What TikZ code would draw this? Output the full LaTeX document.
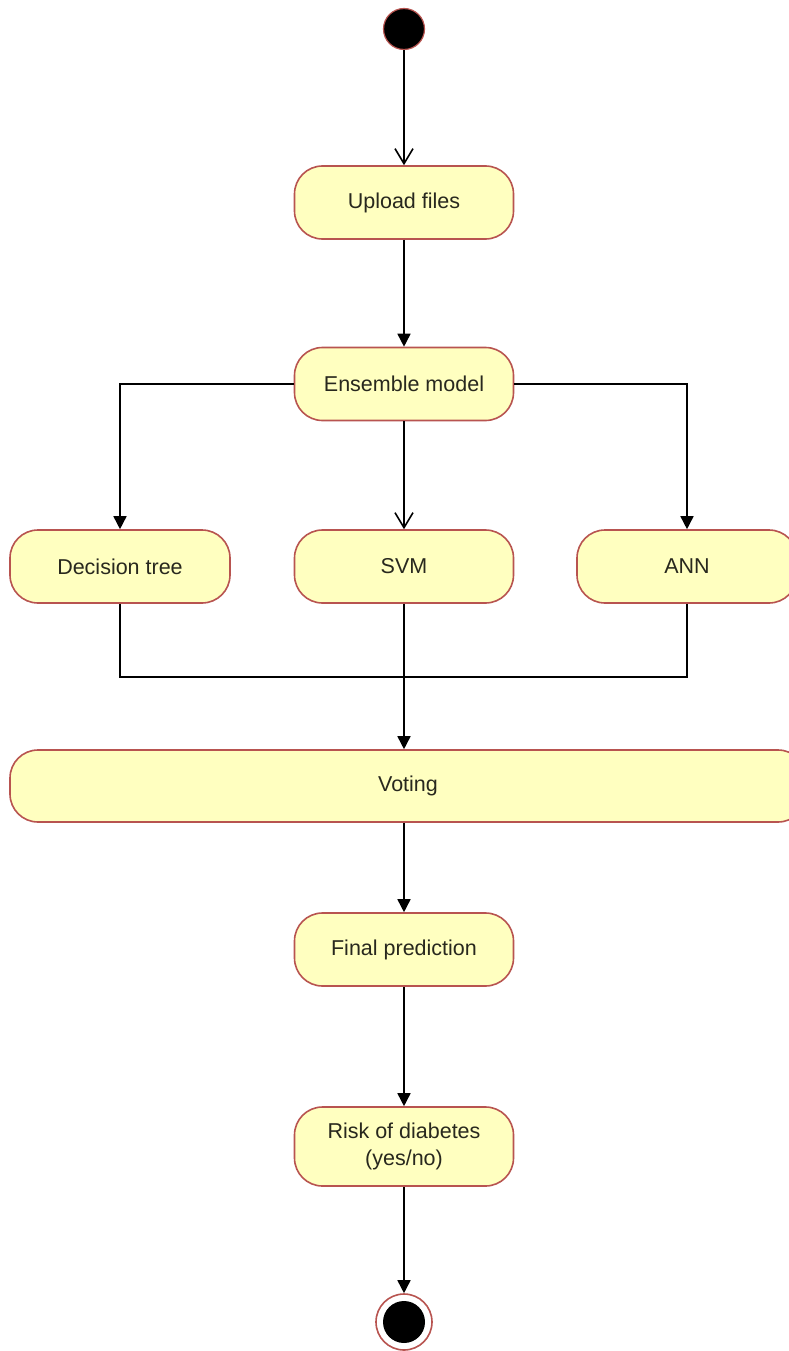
\documentclass[tikz,border=0pt]{standalone}
\usepackage{fontspec}
\setmainfont{Liberation Sans}
\usetikzlibrary{arrows.meta}
\definecolor{actfill}{RGB}{255,255,192}
\definecolor{actline}{RGB}{184,84,80}
\definecolor{txt}{RGB}{40,40,30}
\begin{document}
\begin{tikzpicture}[x=1pt,y=-1pt,
  act/.style={draw=actline, fill=actfill, line width=1.6pt, rounded corners=28pt,
    minimum width=219pt, minimum height=73pt, inner sep=0pt, text=txt,
    font=\fontsize{21.5}{27}\selectfont, align=center},
  flow/.style={line width=1.6pt, -{Triangle[width=13pt,length=13pt]}},
  openflow/.style={line width=1.6pt, -{Straight Barb[width=18pt,length=15pt,line width=1.6pt]}},
  link/.style={line width=1.6pt},
]
\useasboundingbox[fill=white] (0,0) rectangle (789,1351);

% initial state
\node[circle, fill=black, draw=actline, line width=1.2pt, minimum size=41pt, inner sep=0pt] (start) at (404,29) {};

% activities
\node[act] (upload) at (404,202.5) {Upload files};
\node[act] (ens) at (404,384) {Ensemble model};
\node[act, minimum width=220pt] (dt) at (120,566.5) {Decision tree};
\node[act] (svm) at (404,566.5) {SVM};
\node[act, minimum width=220pt] (ann) at (687,566.5) {ANN};
\node[act, minimum width=796pt, minimum height=72pt] (vote) at (408,786) {Voting};
\node[act] (final) at (404,949.5) {Final prediction};
\node[act, minimum height=79pt] (risk) at (404,1146.5) {Risk of diabetes\\(yes/no)};

% final state
\node[circle, draw=actline, line width=1.6pt, minimum size=56pt, inner sep=0pt] (end) at (404,1322) {};
\node[circle, fill=black, minimum size=42pt, inner sep=0pt] (endcore) at (end.center) {};

\coordinate (merge) at (404,677);

% flows
\draw[openflow] (start) -- (upload);
\draw[flow] (upload) -- (ens);
\draw[openflow] (ens) -- (svm);
\draw[flow] (ens.west) -| (dt.north);
\draw[flow] (ens.east) -| (ann.north);
\draw[link] (dt.south) |- (merge);
\draw[link] (ann.south) |- (merge);
\draw[flow] (svm.south) -- (svm.south |- vote.north);
\draw[flow] (vote.south -| final) -- (final);
\draw[flow] (final) -- (risk);
\draw[flow] (risk) -- (end);
\end{tikzpicture}
\end{document}
